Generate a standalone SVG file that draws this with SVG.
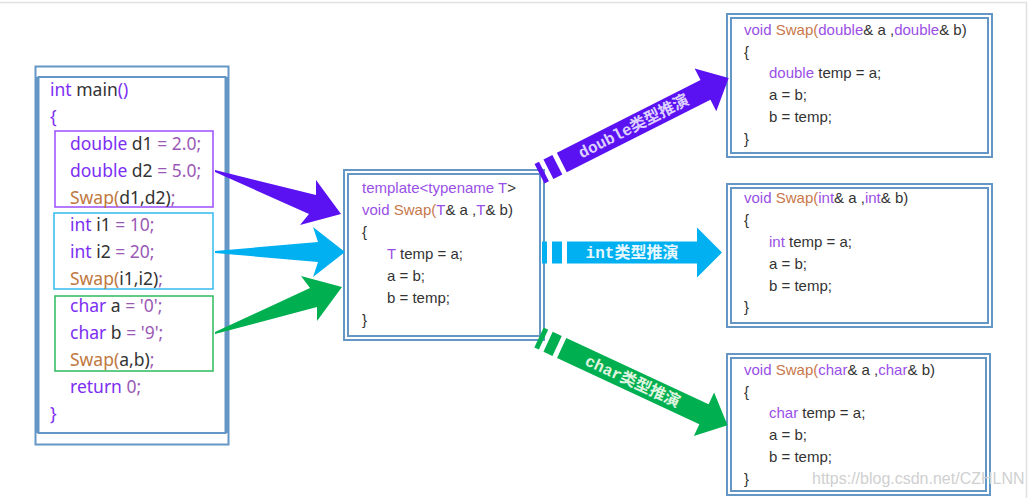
<svg xmlns="http://www.w3.org/2000/svg" width="1032" height="498" viewBox="0 0 1032 498">
<style>
.frame{fill:#fff;stroke:#6497c6;stroke-width:2}
.frin{fill:none;stroke:#6497c6;stroke-width:2}
.code{font-family:'Noto Sans','Liberation Sans',sans-serif;font-size:17.5px;fill:#333}
.code2{font-family:'Liberation Sans',Arial,sans-serif;font-size:15px;fill:#333}
.kw{fill:#7c2ef2}
.op{fill:#9b59b6}
.fn{fill:#c07840}
.kw2{fill:#9a4fe6}
.fn2{fill:#c8784a}
.lbl{font-family:'Liberation Mono','Noto Sans CJK SC',monospace;font-size:16px;font-weight:bold}
</style>
<rect width="1032" height="498" fill="#fff"/>
<path d="M0,2.5 H1026.5 V498" fill="none" stroke="#e0e0e0" stroke-width="1.5"/>

<g id="main">
  <rect class="frame" x="35.5" y="66.5" width="193" height="378"/>
  <rect x="35.5" y="77" width="3" height="356" fill="#6497c6"/>
  <rect x="225.5" y="77" width="3" height="356" fill="#6497c6"/>
  <rect class="frin" x="38.5" y="77" width="187" height="356"/>
  <rect x="55" y="131" width="158" height="76" fill="none" stroke="#9b4dff" stroke-width="1.5"/>
  <rect x="54" y="213" width="159" height="76" fill="none" stroke="#33bbee" stroke-width="1.5"/>
  <rect x="55" y="296" width="158" height="75" fill="none" stroke="#2dbb5c" stroke-width="1.5"/>
  <text class="code" x="50" y="96"><tspan class="kw">int</tspan> main<tspan class="kw">()</tspan></text>
  <text class="code kw" x="50" y="123">{</text>
  <text class="code" x="70" y="150"><tspan class="kw">double</tspan> d1 <tspan class="op">= 2.0;</tspan></text>
  <text class="code" x="70" y="177"><tspan class="kw">double</tspan> d2 <tspan class="op">= 5.0;</tspan></text>
  <text class="code" x="70" y="204"><tspan class="fn">Swap(</tspan>d1,d2)<tspan class="op">;</tspan></text>
  <text class="code" x="70" y="231"><tspan class="kw">int</tspan> i1 <tspan class="op">= 10;</tspan></text>
  <text class="code" x="70" y="258"><tspan class="kw">int</tspan> i2 <tspan class="op">= 20;</tspan></text>
  <text class="code" x="70" y="285"><tspan class="fn">Swap(</tspan>i1,i2)<tspan class="op">;</tspan></text>
  <text class="code" x="70" y="312"><tspan class="kw">char</tspan> a <tspan class="op">= '0';</tspan></text>
  <text class="code" x="70" y="339"><tspan class="kw">char</tspan> b <tspan class="op">= '9';</tspan></text>
  <text class="code" x="70" y="366"><tspan class="fn">Swap(</tspan>a,b)<tspan class="op">;</tspan></text>
  <text class="code" x="70" y="393"><tspan class="kw">return</tspan> <tspan class="op">0;</tspan></text>
  <text class="code kw" x="50" y="420">}</text>
</g>

<g id="template">
  <rect class="frame" x="344" y="170" width="200" height="170"/>
  <rect class="frin" x="348" y="174" width="192" height="162"/>
  <text class="code2" x="362" y="193"><tspan class="kw2">template&lt;typename T</tspan>&gt;</text>
  <text class="code2" x="362" y="215"><tspan class="kw2">void</tspan> <tspan class="fn2">Swap(</tspan><tspan class="kw2">T</tspan>&amp; a ,<tspan class="kw2">T</tspan>&amp; b)</text>
  <text class="code2" x="362" y="237">{</text>
  <text class="code2" x="387" y="259"><tspan class="kw2">T</tspan> temp = a;</text>
  <text class="code2" x="387" y="281">a = b;</text>
  <text class="code2" x="387" y="303">b = temp;</text>
  <text class="code2" x="362" y="325">}</text>
</g>

<g id="swap-double">
  <rect class="frame" x="727" y="14" width="265" height="143"/>
  <rect class="frin" x="731" y="18" width="257" height="135"/>
  <text class="code2" x="744" y="35"><tspan class="kw2">void</tspan> <tspan class="fn2">Swap(</tspan><tspan class="kw2">double</tspan>&amp; a ,<tspan class="kw2">double</tspan>&amp; b)</text>
  <text class="code2" x="744" y="56.5">{</text>
  <text class="code2" x="769" y="78"><tspan class="kw2">double</tspan> temp = a;</text>
  <text class="code2" x="769" y="100">a = b;</text>
  <text class="code2" x="769" y="122">b = temp;</text>
  <text class="code2" x="744" y="144">}</text>
</g>

<g id="swap-int">
  <rect class="frame" x="727" y="184" width="265" height="143"/>
  <rect class="frin" x="731" y="188" width="257" height="135"/>
  <text class="code2" x="744" y="203"><tspan class="kw2">void</tspan> <tspan class="fn2">Swap(</tspan><tspan class="kw2">int</tspan>&amp; a ,<tspan class="kw2">int</tspan>&amp; b)</text>
  <text class="code2" x="744" y="225">{</text>
  <text class="code2" x="769" y="247"><tspan class="kw2">int</tspan> temp = a;</text>
  <text class="code2" x="769" y="269">a = b;</text>
  <text class="code2" x="769" y="291">b = temp;</text>
  <text class="code2" x="744" y="312">}</text>
</g>

<g id="swap-char">
  <rect class="frame" x="727" y="354" width="263" height="141"/>
  <rect class="frin" x="731" y="358" width="255" height="133"/>
  <text class="code2" x="744" y="375"><tspan class="kw2">void</tspan> <tspan class="fn2">Swap(</tspan><tspan class="kw2">char</tspan>&amp; a ,<tspan class="kw2">char</tspan>&amp; b)</text>
  <text class="code2" x="744" y="396.5">{</text>
  <text class="code2" x="769" y="418"><tspan class="kw2">char</tspan> temp = a;</text>
  <text class="code2" x="769" y="440">a = b;</text>
  <text class="code2" x="769" y="462">b = temp;</text>
  <text class="code2" x="744" y="484">}</text>
</g>

<g id="connectors">
  <polygon fill="#5b12f2" points="215,170 316,195 316,180 341,214 300,225 309,214 215,172"/>
  <polygon fill="#00b0f0" points="215,251 318,242 313,227 345,252 313,277 318,262 215,253"/>
  <polygon fill="#00b050" points="215,332 310,288 301,276 342,287 317,321 317,307 215,334"/>

  <g transform="translate(539.5,173.8) rotate(-26.83)">
    <path fill="#5b12f2" d="M0,-11 h5 v22 h-5z M10,-11 h10 v22 h-10z M25,-11 H186 V-24 L212,0 L186,24 V11 H25z"/>
    <text class="lbl" x="105.5" y="5.5" text-anchor="middle" fill="#ddd0ff">double类型推演</text>
  </g>
  <g transform="translate(542,252.5)">
    <path fill="#00b0f0" d="M0,-11 h5 v22 h-5z M10,-11 h10 v22 h-10z M25,-11 H155 V-25 L180,0 L155,25 V11 H25z"/>
    <text class="lbl" x="90" y="5.5" text-anchor="middle" fill="#e6f7ff">int类型推演</text>
  </g>
  <g transform="translate(539,337.5) rotate(24.97)">
    <path fill="#00b050" d="M0,-11 h5 v22 h-5z M10,-11 h10 v22 h-10z M25,-11 H182 V-24 L208,0 L182,24 V11 H25z"/>
    <text class="lbl" x="103.5" y="5.5" text-anchor="middle" fill="#e0f5e0">char类型推演</text>
  </g>
</g>

<text x="812" y="484" font-family="'Liberation Sans',Arial,sans-serif" font-size="16" fill="#d0d0d0">https://blog.csdn.net/CZHLNN</text>
</svg>
